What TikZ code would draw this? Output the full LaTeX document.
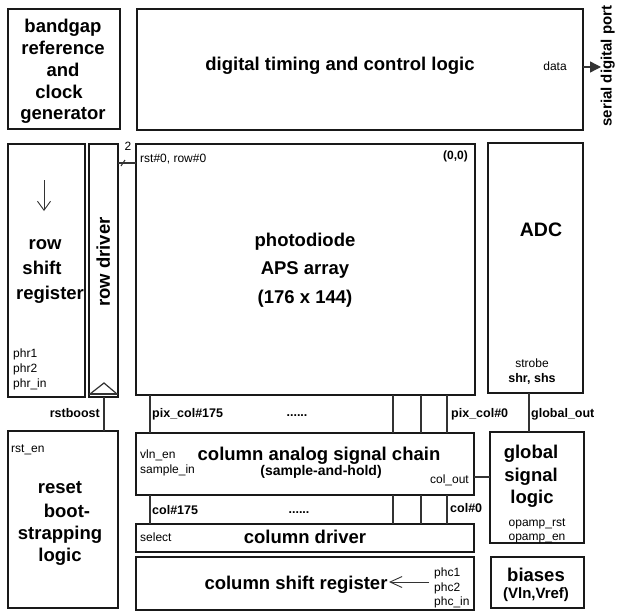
\documentclass[tikz,border=0pt]{standalone}
\usepackage{fontspec}
\setmainfont{Liberation Sans}
\usetikzlibrary{arrows.meta}
\begin{document}
\begin{tikzpicture}[x=1pt,y=-1pt,
 blk/.style={draw=black!90, line width=2pt, inner sep=0pt, outer sep=0pt, anchor=north west},
 wire/.style={draw=black!80, line width=1.1pt},
 big/.style={font=\fontsize{18.5}{22}\selectfont\bfseries, inner sep=0pt, text height=13.5pt, text depth=0pt},
 mid/.style={font=\fontsize{14}{17}\selectfont\bfseries, inner sep=0pt, text height=10pt, text depth=0pt},
 sm/.style={font=\fontsize{12}{15}\selectfont, inner sep=0pt, text height=8.6pt, text depth=0pt},
 smb/.style={font=\fontsize{12.5}{15}\selectfont\bfseries, inner sep=0pt, text height=9pt, text depth=0pt}]

\useasboundingbox (0,0) rectangle (617,613);
\fill[white] (0,0) rectangle (617,613);

% ---------- blocks ----------
\node[blk, minimum width=112pt, minimum height=120pt] (bg)  at (8,9) {};
\node[blk, minimum width=446pt, minimum height=121pt] (dig) at (137,9) {};
\node[blk, minimum width=77pt,  minimum height=253pt] (rsr) at (8,144) {};
\node[blk, minimum width=29pt,  minimum height=253pt] (rd)  at (89,144) {};
\node[blk, minimum width=339pt, minimum height=251pt] (pd)  at (136,144) {};
\node[blk, minimum width=95pt,  minimum height=250pt] (adc) at (488,143) {};
\node[blk, minimum width=338pt, minimum height=62pt]  (ca)  at (136,433) {};
\node[blk, minimum width=94pt,  minimum height=111pt] (gl)  at (490,432) {};
\node[blk, minimum width=338pt, minimum height=28pt]  (cd)  at (136,524) {};
\node[blk, minimum width=338pt, minimum height=53pt]  (cs)  at (136,557) {};
\node[blk, minimum width=93pt,  minimum height=51pt]  (bi)  at (491,557) {};
\node[blk, minimum width=110pt, minimum height=177pt] (rb)  at (8,431) {};

% ---------- helper coordinates ----------
\coordinate (xa) at (150,0);
\coordinate (xb) at (393,0);
\coordinate (xc) at (421,0);
\coordinate (xd) at (447,0);
\coordinate (xg) at (529,0);
\coordinate (xr) at (104,0);
\coordinate (ycol) at (0,477);
\coordinate (ybus) at (0,163);
\coordinate (port) at (601,67);
\coordinate (sl1) at (121,166);
\coordinate (sl2) at (125,160);
\coordinate (da1) at (44,180);
\coordinate (da2) at (44,211);
\coordinate (la1) at (429,582);
\coordinate (la2) at (389,582);
\coordinate (tr1) at (90,394);
\coordinate (tr2) at (104,383);
\coordinate (tr3) at (117,394);
\coordinate (tl1) at (89,394);
\coordinate (tl2) at (118,394);

% ---------- connectors ----------
\foreach \c in {xa,xb,xc,xd}{
  \draw[wire] (pd.south -| \c) -- (ca.north -| \c);
  \draw[wire] (ca.south -| \c) -- (cd.north -| \c);
}
\draw[wire] (adc.south -| xg) -- (gl.north -| xg);
\draw[wire] (ca.east |- ycol) -- (gl.west |- ycol);
\draw[wire] (rd.south -| xr) -- (rb.north -| xr);
\draw[wire] (rd.east |- ybus) -- (pd.west |- ybus);
\draw[wire] (sl1) -- (sl2);
\draw[wire, line width=1.4pt, -{Triangle[length=11pt,width=11pt]}] (dig.east |- port) -- (port);
\draw[wire, line width=0.9pt, -{Straight Barb[length=9pt,width=13pt]}] (da1) -- (da2);
\draw[wire, line width=0.9pt, -{Straight Barb[length=12pt,width=11pt]}] (la1) -- (la2);
\draw[wire, line width=1.2pt] (tr1) -- (tr2) -- (tr3);
\draw[wire, line width=1.2pt] (tl1) -- (tl2);

% ---------- texts ----------
\node[big] (bg1) at (63,26) {bandgap};
\node[big] (bg2) at (63,48) {reference};
\node[big] (bg3) at (63,70) {and};
\node[big] (bg4) at (59,92) {clock};
\node[big] (bg5) at (63,113) {generator};
\node[big] (digt) at (340,64) {digital timing and control logic};
\node[sm] (datat) at (555,66) {data};
\node[font=\fontsize{15}{18}\selectfont\bfseries, inner sep=0pt, text height=11pt, text depth=0pt, rotate=90] (portt) at (606,66) {serial digital port};

\node[big] (rs1) at (45,243) {row};
\node[big] (rs2) at (42,268) {shift};
\node[big] (rs3) at (50,293) {register};
\node[sm, anchor=west] (ph1) at (13,353) {phr1};
\node[sm, anchor=west] (ph2) at (13,368) {phr2};
\node[sm, anchor=west] (ph3) at (13,383) {phr\_in};
\node[big, rotate=90] (rdt) at (103,262) {row driver};
\node[sm] (two) at (128,146) {2};
\node[sm, anchor=west] (rstt) at (140,158) {rst\#0, row\#0};
\node[smb, font=\fontsize{12}{15}\selectfont\bfseries, anchor=east] (orig) at (468,155) {(0,0)};

\node[big] (pd1) at (305,240) {photodiode};
\node[big] (pd2) at (305,268) {APS array};
\node[big] (pd3) at (305,297) {(176 x 144)};

\node[big, font=\fontsize{19.5}{22}\selectfont\bfseries] (adct) at (541,230) {ADC};
\node[sm] (strobe) at (532,363) {strobe};
\node[smb] (shr) at (532,378) {shr, shs};

\node[smb, anchor=west] (pc175) at (152,413) {pix\_col\#175};
\node[smb] (dots1) at (297,412) {......};
\node[smb, anchor=west] (pc0) at (451,413) {pix\_col\#0};
\node[smb, anchor=west] (gout) at (531,413) {global\_out};

\node[big] (ca1) at (319,454) {column analog signal chain};
\node[mid] (ca2) at (321,470) {(sample-and-hold)};
\node[sm, anchor=west] (vln) at (140,454) {vln\_en};
\node[sm, anchor=west] (samp) at (140,469) {sample\_in};
\node[sm, anchor=east] (colout) at (469,479) {col\_out};

\node[big] (gl1) at (531,452) {global};
\node[big] (gl2) at (531,475) {signal};
\node[big] (gl3) at (532,497) {logic};
\node[sm] (oprst) at (537,522) {opamp\_rst};
\node[sm] (open) at (537,536) {opamp\_en};

\node[smb, anchor=west] (c175) at (152,510) {col\#175};
\node[smb] (dots2) at (299,509) {......};
\node[smb, anchor=west] (c0) at (450,508) {col\#0};

\node[sm, anchor=west] (sel) at (140,537) {select};
\node[big] (cdt) at (305,537) {column driver};

\node[big] (cst) at (296,583) {column shift register};
\node[sm, anchor=west] (phc1) at (434,572) {phc1};
\node[sm, anchor=west] (phc2) at (434,587) {phc2};
\node[sm, anchor=west] (phc3) at (434,601) {phc\_in};

\node[big] (bit) at (536,575) {biases};
\node[mid, font=\fontsize{15}{18}\selectfont\bfseries] (vref) at (536,593) {(Vln,Vref)};

\node[sm, anchor=west] (rsten) at (11,448) {rst\_en};
\node[big] (rb1) at (60,487) {reset};
\node[big] (rb2) at (67,511) {boot-};
\node[big] (rb3) at (60,533) {strapping};
\node[big] (rb4) at (60,555) {logic};
\node[smb, anchor=east] (rstb) at (100,413) {rstboost};
\end{tikzpicture}
\end{document}
